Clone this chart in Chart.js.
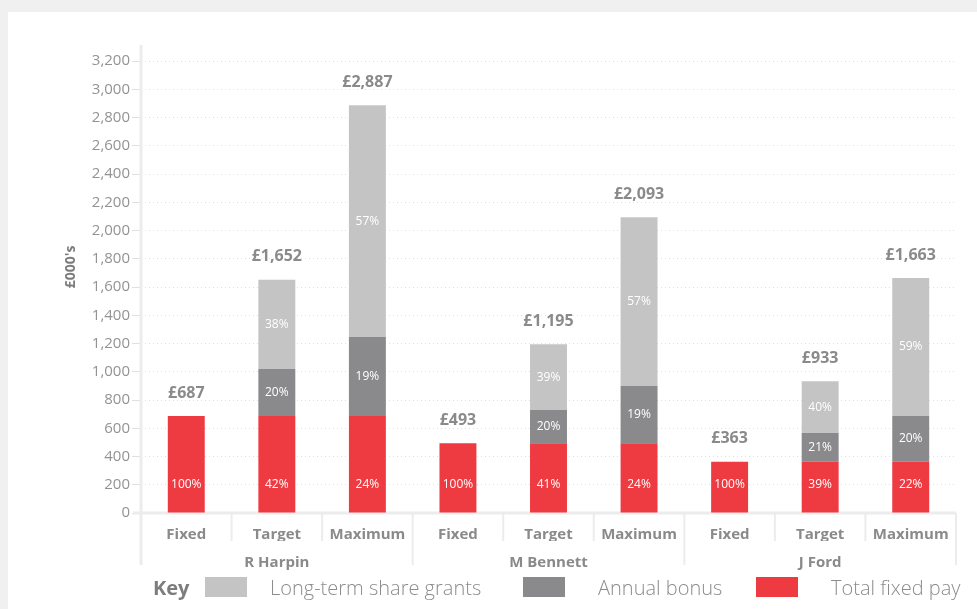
<!DOCTYPE html>
<html>
<head>
<meta charset="utf-8">
<script src="https://cdn.jsdelivr.net/npm/chart.js@4"></script>
<style>
  html, body { margin:0; padding:0; }
  body { width:977px; height:609px; background:#f0f0f0; position:relative; overflow:hidden; font-family:"Open Sans", sans-serif; }
  #panel { position:absolute; left:8px; top:12px; right:0; bottom:0; background:#ffffff; }
  #wrap { position:absolute; left:0; top:0; width:977px; height:575px; }
  .lg { position:absolute; color:#8c8c8c; white-space:nowrap; line-height:24px; }
  .sw { position:absolute; width:42px; height:20px; top:577px; }
</style>
</head>
<body>
<div id="panel"></div>
<div id="wrap"><canvas id="c" width="977" height="575"></canvas></div>
<div class="lg" style="left:153px; top:576px; font-weight:700; font-size:20px; color:#7d7d7d;">Key</div>
<div class="sw" style="left:205px; background:#c4c4c4;"></div>
<div class="lg" style="left:270px; top:576px; font-size:20px; font-weight:300;">Long-term share grants</div>
<div class="sw" style="left:523px; background:#8a8a8c;"></div>
<div class="lg" style="left:598px; top:576px; font-size:20px; font-weight:300;">Annual bonus</div>
<div class="sw" style="left:756px; background:#ee3b42;"></div>
<div class="lg" style="left:831px; top:576px; font-size:20px; font-weight:300;">Total fixed pay</div>
<script>
// ---- data ----
const categories = ['Fixed','Target','Maximum','Fixed','Target','Maximum','Fixed','Target','Maximum'];
const groupLabels = ['','R Harpin','','','M Bennett','','','J Ford',''];
const fixedPay   = [687, 687, 687, 493, 493, 493, 363, 363, 363];
const annualBonus = [null, 332, 559, null, 236, 406, null, 203, 324];
const shareGrants = [null, 633, 1641, null, 466, 1194, null, 367, 976];
const totals = ['£687','£1,652','£2,887','£493','£1,195','£2,093','£363','£933','£1,663'];
const fixedPct = ['100%','42%','24%','100%','41%','24%','100%','39%','22%'];
const bonusPct = [null,'20%','19%',null,'20%','19%',null,'21%','20%'];
const grantPct = [null,'38%','57%',null,'39%','57%',null,'40%','59%'];
const yTicks = { min:0, max:3200, step:200 };
const yTitle = "£000's";

const RED = '#ee3b42', DARK = '#8a8a8c', LIGHT = '#c4c4c4';
const AXIS = '#ececec';
const FONT = '"Open Sans", sans-serif';

const decor = {
  id: 'decor',
  beforeDatasetsDraw(chart) {
    const {ctx, chartArea: a, scales: {x, y}} = chart;
    ctx.save();
    ctx.strokeStyle = AXIS;
    ctx.lineWidth = 3;
    // y axis line
    ctx.beginPath(); ctx.moveTo(a.left, a.top - 16); ctx.lineTo(a.left, a.bottom + 52); ctx.stroke();
    // x axis line
    const z = y.getPixelForValue(0);
    ctx.beginPath(); ctx.moveTo(a.left - 8, z); ctx.lineTo(a.right, z); ctx.stroke();
    // separators
    ctx.lineWidth = 2;
    const n = categories.length;
    const w = (x.getPixelForValue(1) - x.getPixelForValue(0));
    for (let i = 1; i <= n; i++) {
      const px = x.getPixelForValue(i) - w / 2;
      const longLine = (i % 3 === 0);
      ctx.beginPath(); ctx.moveTo(px, z); ctx.lineTo(px, z + (longLine ? 52 : 28)); ctx.stroke();
    }
    ctx.restore();
  },
  afterDatasetsDraw(chart) {
    const {ctx, scales: {y}} = chart;
    const z = y.getPixelForValue(0);
    ctx.save();
    ctx.textAlign = 'center';
    ctx.textBaseline = 'middle';
    const pcts = [fixedPct, bonusPct, grantPct];
    ctx.font = '400 12px ' + FONT;
    ctx.fillStyle = '#ffffff';
    pcts.forEach((arr, di) => {
      const meta = chart.getDatasetMeta(di);
      meta.data.forEach((bar, i) => {
        if (!arr[i]) return;
        const yy = di === 0 ? z - 28 : (bar.y + bar.base) / 2;
        ctx.fillText(arr[i], bar.x, yy);
      });
    });
    // totals
    ctx.font = '700 16px ' + FONT;
    ctx.fillStyle = '#8a8a8a';
    const m0 = chart.getDatasetMeta(0);
    m0.data.forEach((bar, i) => {
      let top = bar.y;
      [1, 2].forEach(d => {
        const b = chart.getDatasetMeta(d).data[i];
        if (b && chart.data.datasets[d].data[i] != null) top = Math.min(top, b.y);
      });
      ctx.fillText(totals[i], bar.x, top - 23);
    });
    // y title
    ctx.translate(71, 267);
    ctx.rotate(-Math.PI / 2);
    ctx.font = '700 14px ' + FONT;
    ctx.fillStyle = '#7d7d7d';
    ctx.fillText(yTitle, 0, 0);
    ctx.restore();
  }
};

new Chart(document.getElementById('c'), {
  type: 'bar',
  data: {
    labels: categories,
    datasets: [
      { label: 'Total fixed pay', data: fixedPay, backgroundColor: RED },
      { label: 'Annual bonus', data: annualBonus, backgroundColor: DARK },
      { label: 'Long-term share grants', data: shareGrants, backgroundColor: LIGHT }
    ]
  },
  options: {
    responsive: false,
    animation: false,
    devicePixelRatio: 1,
    categoryPercentage: 1,
    barPercentage: 0.408,
    layout: { padding: { left: 0, right: 21, top: 61, bottom: 0 } },
    plugins: { legend: { display: false }, tooltip: { enabled: false } },
    scales: {
      y: {
        stacked: true,
        min: yTicks.min, max: yTicks.max,
        ticks: { stepSize: yTicks.step, color: '#939393', font: { family: FONT, size: 15 }, padding: 2 },
        grid: { color: '#e0e0e0', lineWidth: 1, tickLength: 9 },
        border: { display: false, dash: [1, 3] },
        afterFit(s) { s.width = 141; }
      },
      x: {
        stacked: true,
        weight: 0,
        grid: { display: false, drawTicks: false },
        border: { display: false },
        ticks: { color: '#8a8a8a', font: { family: FONT, size: 15, weight: '700' }, padding: 13, maxRotation: 0, autoSkip: false },
        afterFit(s) { s.height = 28; }
      },
      x2: {
        type: 'category',
        position: 'bottom',
        labels: groupLabels,
        offset: true,
        weight: 1,
        grid: { display: false, drawTicks: false },
        border: { display: false },
        ticks: { color: '#8a8a8a', font: { family: FONT, size: 15, weight: '700' }, padding: 13, maxRotation: 0, autoSkip: false },
        afterFit(s) { s.height = 34; }
      }
    }
  },
  plugins: [decor]
});
</script>
</body>
</html>
